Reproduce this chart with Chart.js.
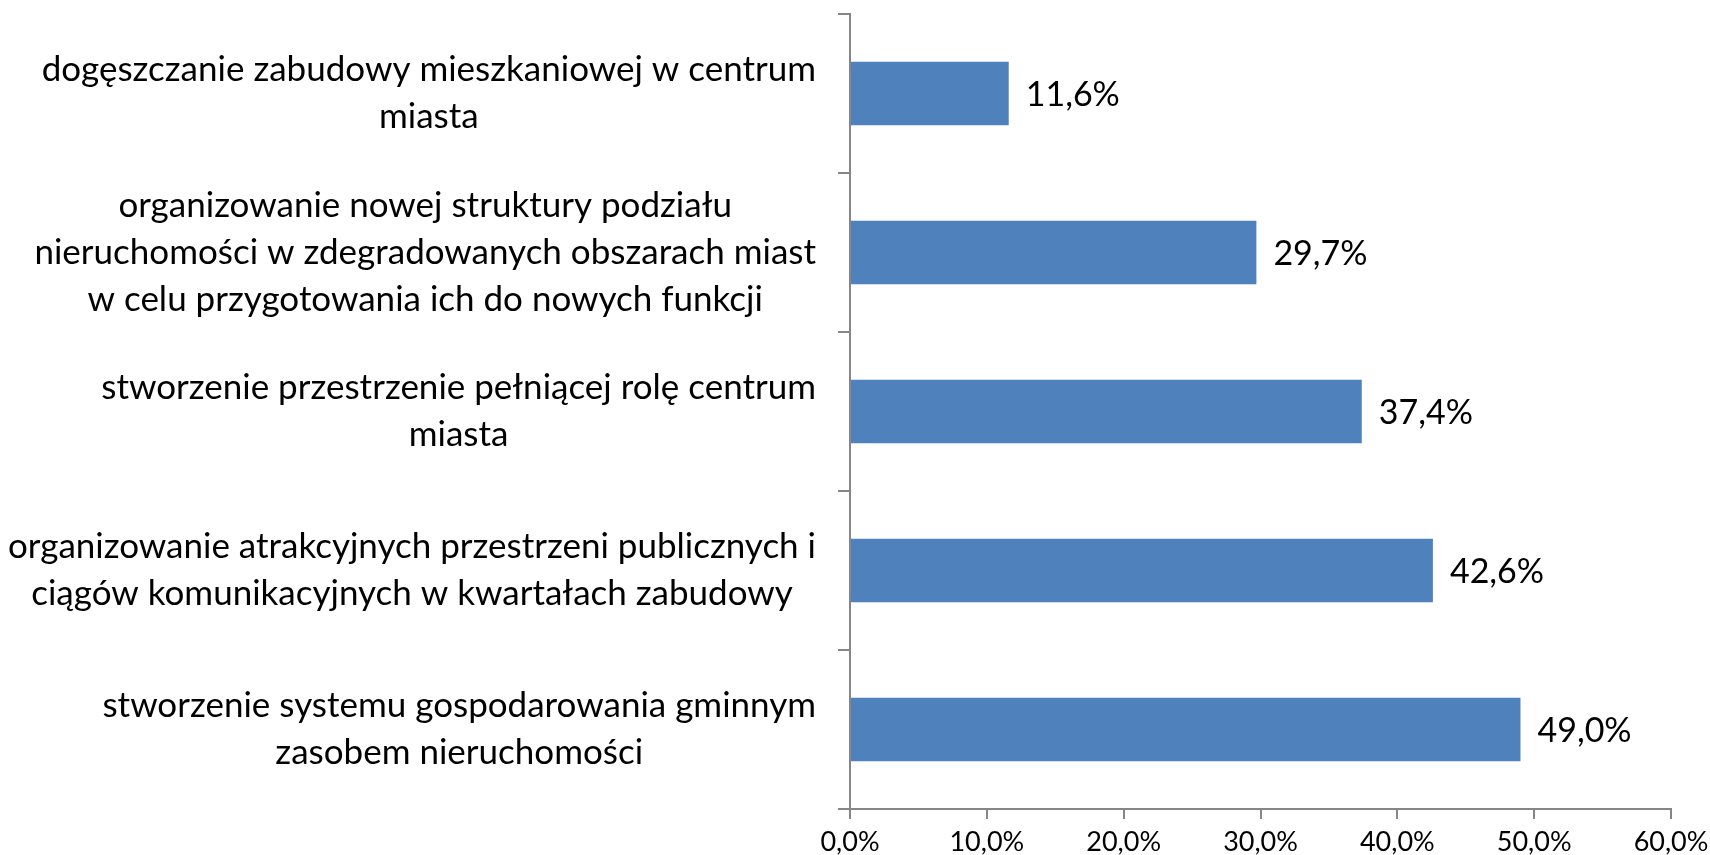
<!DOCTYPE html>
<html>
<head>
<meta charset="utf-8">
<script src="https://cdn.jsdelivr.net/npm/chart.js@4"></script>
<style>
  html, body { margin: 0; padding: 0; background: #fff; }
  #wrap { width: 1710px; height: 855px; }
</style>
</head>
<body>
<div id="wrap"><canvas id="chart"></canvas></div>
<script>
// Category labels (each entry = lines of the label), top to bottom
const categories = [
  ['dogęszczanie zabudowy mieszkaniowej w centrum', 'miasta'],
  ['organizowanie nowej struktury podziału', 'nieruchomości w zdegradowanych obszarach miast', 'w celu przygotowania ich do nowych funkcji'],
  ['stworzenie przestrzenie pełniącej rolę centrum', 'miasta'],
  ['organizowanie atrakcyjnych przestrzeni publicznych i', 'ciągów komunikacyjnych w kwartałach zabudowy'],
  ['stworzenie systemu gospodarowania gminnym', 'zasobem nieruchomości']
];
const values = [11.6, 29.7, 37.4, 42.6, 49.0];
const xTicks = [0, 10, 20, 30, 40, 50, 60];

const FONT = 'Lato, "Liberation Sans", sans-serif';
const AXIS_COLOR = '#868686';

function fmtPct(v) {
  return v.toFixed(1).replace('.', ',') + '%';
}

// Draw the multi-line category labels: block right-aligned, lines centered
const categoryLabels = {
  id: 'categoryLabels',
  afterDraw(chart) {
    const ctx = chart.ctx;
    const yScale = chart.scales.y;
    const right = yScale.right - 34;
    const lineHeight = 47;
    ctx.save();
    ctx.font = '35px ' + FONT;
    ctx.fillStyle = '#000';
    ctx.textAlign = 'center';
    ctx.textBaseline = 'middle';
    categories.forEach((lines, i) => {
      const y = yScale.getPixelForTick(i);
      const w = Math.max(...lines.map(l => ctx.measureText(l).width));
      const cx = right - w / 2;
      const top = y - (lines.length - 1) * lineHeight / 2;
      lines.forEach((l, j) => ctx.fillText(l, cx, top + j * lineHeight));
    });
    ctx.restore();
  }
};

// Value labels to the right of each bar
const valueLabels = {
  id: 'valueLabels',
  afterDatasetsDraw(chart) {
    const ctx = chart.ctx;
    const meta = chart.getDatasetMeta(0);
    ctx.save();
    ctx.font = '34px ' + FONT;
    ctx.fillStyle = '#000';
    ctx.textAlign = 'left';
    ctx.textBaseline = 'middle';
    meta.data.forEach((bar, i) => {
      ctx.fillText(fmtPct(values[i]), bar.x + 17, bar.y + 2);
    });
    ctx.restore();
  }
};

new Chart(document.getElementById('chart'), {
  type: 'bar',
  data: {
    labels: categories.map(c => c.join(' ')),
    datasets: [{
      data: values,
      backgroundColor: '#4F81BD',
      borderWidth: 0,
      categoryPercentage: 1,
      barPercentage: 0.4
    }]
  },
  options: {
    indexAxis: 'y',
    responsive: true,
    maintainAspectRatio: false,
    animation: false,
    layout: { padding: { top: 14, right: 39, left: 0, bottom: 0 } },
    plugins: {
      legend: { display: false },
      tooltip: { enabled: false }
    },
    scales: {
      x: {
        min: 0,
        max: 60,
        afterBuildTicks(scale) {
          scale.ticks = xTicks.map(v => ({ value: v }));
        },
        afterFit(scale) {
          scale.height = 46;
          scale.paddingLeft = 0;
          scale.paddingRight = 0;
        },
        ticks: {
          color: '#000',
          font: { family: FONT, size: 27 },
          padding: 7,
          maxRotation: 0,
          callback: v => fmtPct(v)
        },
        grid: {
          drawOnChartArea: false,
          color: AXIS_COLOR,
          tickLength: 10,
          lineWidth: 2
        },
        border: { color: AXIS_COLOR, width: 2 }
      },
      y: {
        afterFit(scale) { scale.width = 850; },
        ticks: { display: false },
        grid: {
          drawOnChartArea: false,
          offset: true,
          color: AXIS_COLOR,
          tickLength: 12,
          lineWidth: 2
        },
        border: { color: AXIS_COLOR, width: 2 }
      }
    }
  },
  plugins: [categoryLabels, valueLabels]
});
</script>
</body>
</html>
